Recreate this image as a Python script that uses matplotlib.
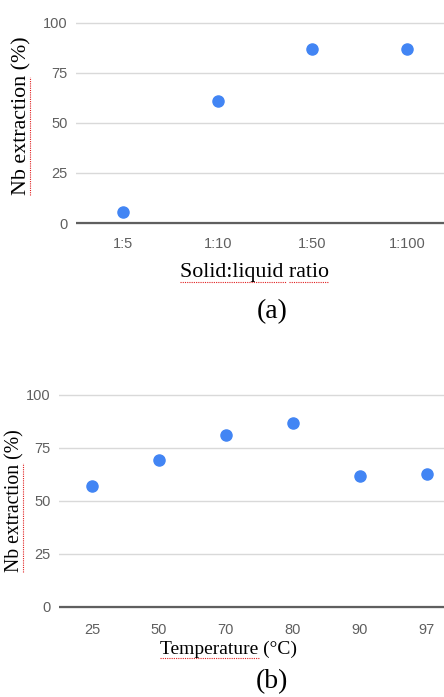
import numpy as np
import matplotlib
matplotlib.use("Agg")
import matplotlib.pyplot as plt

# data
ratio_labels = ["1:5", "1:10", "1:50", "1:100"]
ratio_values = [5.6, 61, 86.8, 86.8]

temp_labels = ["25", "50", "70", "80", "90", "97"]
temp_values = [57, 69, 81, 86.5, 61.5, 62.7]

yticks = [0, 25, 50, 75, 100]

W, H = 444, 697
fig = plt.figure(figsize=(W / 100, H / 100), dpi=100)

blue = "#4285f4"
grey_txt = "#5f5f5f"
ylim = (-3, 104)


def place(left, right, y0, ppu):
    # axes rect in figure fractions from pixel positions
    bot = y0 - ylim[0] * ppu
    top = y0 - ylim[1] * ppu
    return [left / W, 1 - bot / H, (right - left) / W, (bot - top) / H]


def panel(rect, labels, values, pad_y, pad_x):
    ax = fig.add_axes(rect)
    x = np.arange(len(labels))
    ax.plot(x, values, "o", ms=8, color=blue, zorder=3, clip_on=False)
    ax.set_xlim(-0.5, len(labels) - 0.5)
    ax.set_ylim(*ylim)
    ax.set_yticks(yticks)
    ax.set_xticks(x)
    ax.set_xticklabels(labels)
    ax.grid(axis="y", color="#d9d9d9", lw=1)
    ax.axhline(0, color="#5f5f5f", lw=1.6, zorder=2)
    for s in ax.spines.values():
        s.set_visible(False)
    ax.tick_params(axis="y", length=0, pad=pad_y, labelsize=10.5,
                   labelcolor=grey_txt)
    ax.tick_params(axis="x", length=0, pad=pad_x, labelsize=10.5,
                   labelcolor=grey_txt)
    for t in ax.get_xticklabels() + ax.get_yticklabels():
        t.set_family("Liberation Sans")
    return ax


ax1 = panel(place(76, 454, 223, 2.005), ratio_labels, ratio_values, 6, 6)
ax2 = panel(place(58.7, 460, 606.7, 2.12), temp_labels, temp_values, 6, 7)

serif = "Liberation Serif"
fig.text(22 / W, 1 - 116 / H, "Nb extraction (%)", rotation=90, family=serif,
         size=15.8, ha="center", va="center")
fig.text(254 / W, 1 - 273 / H, "Solid:liquid ratio", family=serif,
         size=15.8, ha="center", va="center")
fig.text(272 / W, 1 - 312 / H, "(a)", family=serif, size=20,
         ha="center", va="center")

fig.text(15 / W, 1 - 501 / H, "Nb extraction (%)", rotation=90, family=serif,
         size=14.2, ha="center", va="center")
fig.text(228.5 / W, 1 - 649 / H, "Temperature (\u00b0C)", family=serif,
         size=14, ha="center", va="center")
fig.text(272 / W, 1 - 682 / H, "(b)", family=serif, size=20,
         ha="center", va="center")

# red spell-check underlines from the screenshot
red = dict(color="#e02020", lw=0.8, ls=(0, (1, 1)))
fig.add_artist(plt.Line2D([30 / W, 30 / W], [1 - 195 / H, 1 - 77 / H],
                          transform=fig.transFigure, **red))
fig.add_artist(plt.Line2D([180 / W, 286 / W], [1 - 282 / H, 1 - 282 / H],
                          transform=fig.transFigure, **red))
fig.add_artist(plt.Line2D([289 / W, 329 / W], [1 - 282 / H, 1 - 282 / H],
                          transform=fig.transFigure, **red))
fig.add_artist(plt.Line2D([23 / W, 23 / W], [1 - 572 / H, 1 - 463 / H],
                          transform=fig.transFigure, **red))
fig.add_artist(plt.Line2D([160 / W, 260 / W], [1 - 658 / H, 1 - 658 / H],
                          transform=fig.transFigure, **red))

fig.savefig("out.png", dpi=100)
